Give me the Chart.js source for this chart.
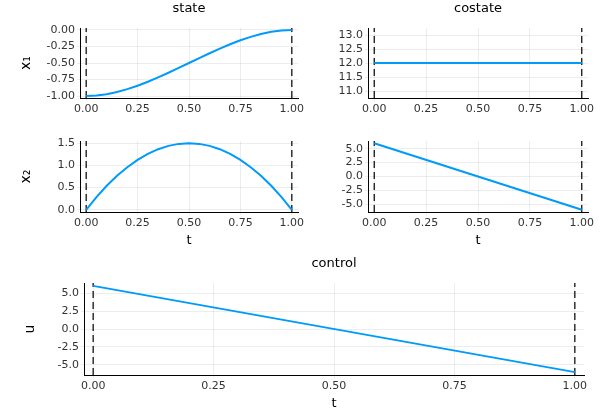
<!DOCTYPE html>
<html>
<head>
<meta charset="utf-8">
<script src="https://cdn.jsdelivr.net/npm/chart.js@4/dist/chart.umd.min.js"></script>
<style>
  body { margin: 0; background: #fff; }
  #wrap { position: relative; width: 600px; height: 420px; }
  canvas { position: absolute; left: 0; top: 0; }
</style>
</head>
<body>
<div id="wrap"></div>
<script>
const tGrid = [0, 0.05, 0.1, 0.15, 0.2, 0.25, 0.3, 0.35, 0.4, 0.45, 0.5,
               0.55, 0.6, 0.65, 0.7, 0.75, 0.8, 0.85, 0.9, 0.95, 1];
const x1 = [-1, -0.993, -0.972, -0.939, -0.896, -0.844, -0.784, -0.718, -0.648, -0.575, -0.5,
            -0.425, -0.352, -0.282, -0.216, -0.156, -0.104, -0.061, -0.028, -0.007, 0];
const x2 = [0, 0.285, 0.54, 0.765, 0.96, 1.125, 1.26, 1.365, 1.44, 1.485, 1.5,
            1.485, 1.44, 1.365, 1.26, 1.125, 0.96, 0.765, 0.54, 0.285, 0];
const tEnds = [0, 1];
const costate = [12, 12];
const control = [6, -6];
const tTicks = [0, 0.25, 0.5, 0.75, 1];

const FONT = 'DejaVu Sans, sans-serif';
const BLUE = '#009af9';

function panel(opt) {
  const c = document.createElement('canvas');
  c.width = 600; c.height = 420;
  c.style.width = '600px'; c.style.height = '420px';
  document.getElementById('wrap').appendChild(c);
  const yw = 62, xh = opt.xTitle ? 38 : 20;
  const pts = opt.t.map((t, i) => ({ x: t, y: opt.y[i] }));
  const dash = x => ({
    data: [{ x: x, y: opt.ymin }, { x: x, y: opt.ymax }],
    borderColor: '#000', borderWidth: 1.2, borderDash: [7, 4],
    pointRadius: 0, showLine: true
  });
  new Chart(c, {
    type: 'scatter',
    data: {
      datasets: [
        { data: pts, borderColor: BLUE, borderWidth: 2, pointRadius: 0, showLine: true },
        dash(tEnds[0]), dash(tEnds[1])
      ]
    },
    options: {
      responsive: false, animation: false, events: [],
      layout: { padding: { left: opt.L - yw, top: opt.T, right: 600 - opt.R, bottom: 420 - opt.B - xh } },
      plugins: { legend: { display: false }, tooltip: { enabled: false } },
      scales: {
        x: {
          type: 'linear', min: opt.xmin, max: opt.xmax,
          afterFit: s => { s.height = xh; },
          afterBuildTicks: s => { s.ticks = tTicks.map(v => ({ value: v })); },
          ticks: { font: { family: FONT, size: 11 }, color: '#333', padding: 2,
                   callback: v => v.toFixed(2) },
          grid: { color: 'rgba(0,0,0,0.07)', drawTicks: true, tickLength: 3 },
          border: { color: '#000' },
          title: { display: !!opt.xTitle, text: opt.xTitle, font: { family: FONT, size: 13 }, color: '#000', padding: 2 }
        },
        y: {
          min: opt.ymin, max: opt.ymax,
          afterFit: s => { s.width = yw; },
          afterBuildTicks: s => { s.ticks = opt.yTicks.map(v => ({ value: v })); },
          ticks: { font: { family: FONT, size: 11 }, color: '#333', padding: 2,
                   callback: v => v.toFixed(opt.dec) },
          grid: { color: 'rgba(0,0,0,0.07)', tickLength: 3 },
          border: { color: '#000' },
          title: { display: !!opt.yTitle, text: opt.yTitle, font: { family: FONT, size: 14 }, color: '#000', padding: 0 }
        }
      }
    },
    plugins: [{
      id: 'ptitle',
      afterDraw: ch => {
        if (!opt.title) return;
        const g = ch.ctx;
        g.save();
        g.font = '13px ' + FONT; g.fillStyle = '#000';
        g.textAlign = 'center'; g.textBaseline = 'middle';
        g.fillText(opt.title, (ch.chartArea.left + ch.chartArea.right) / 2, opt.T - 19);
        g.restore();
      }
    }]
  });
}

panel({ t: tGrid, y: x1, L: 80, T: 28, R: 298, B: 98, xmin: -0.03, xmax: 1.03,
        ymin: -1.03, ymax: 0.03, yTicks: [-1, -0.75, -0.5, -0.25, 0], dec: 2,
        yTitle: 'x₁', title: 'state' });
panel({ t: tEnds, y: costate, L: 368, T: 28, R: 588, B: 98, xmin: -0.03, xmax: 1.03,
        ymin: 10.75, ymax: 13.25, yTicks: [11, 11.5, 12, 12.5, 13], dec: 1,
        title: 'costate' });
panel({ t: tGrid, y: x2, L: 80, T: 141, R: 298, B: 212, xmin: -0.03, xmax: 1.03,
        ymin: -0.05, ymax: 1.55, yTicks: [0, 0.5, 1, 1.5], dec: 1,
        yTitle: 'x₂', xTitle: 't' });
panel({ t: tEnds, y: control, L: 368, T: 141, R: 588, B: 212, xmin: -0.03, xmax: 1.03,
        ymin: -6.4, ymax: 6.4, yTicks: [-5, -2.5, 0, 2.5, 5], dec: 1,
        xTitle: 't' });
panel({ t: tEnds, y: control, L: 84, T: 283, R: 584, B: 375, xmin: -0.019, xmax: 1.019,
        ymin: -6.4, ymax: 6.4, yTicks: [-5, -2.5, 0, 2.5, 5], dec: 1,
        yTitle: 'u', xTitle: 't', title: 'control' });
</script>
</body>
</html>
